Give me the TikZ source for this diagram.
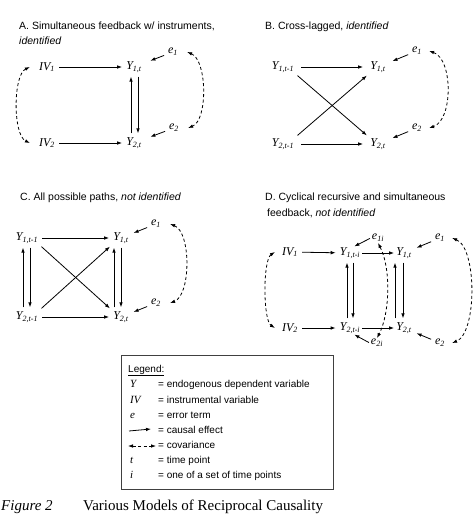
\documentclass[tikz,border=0pt]{standalone}
\usepackage{fontspec}
\setmainfont{Liberation Serif}
\setsansfont{Liberation Sans}
\usetikzlibrary{arrows.meta,positioning}

\newcommand{\vr}[2]{\textit{#1\textsubscript{#2}}}

\begin{document}
\begin{tikzpicture}[
    x=1pt, y=-1pt,
    var/.style={font=\fontsize{12}{12}\selectfont, inner sep=1pt},
    heading/.style={font=\sffamily\fontsize{10.5}{13}\selectfont, anchor=base west, inner sep=0pt},
    arrow/.style={-{Latex[length=5pt,width=3.6pt]}, line width=0.8pt, shorten <=3pt, shorten >=3pt},
    cov/.style={{Latex[length=5pt,width=3.6pt]}-{Latex[length=5pt,width=3.6pt]}, line width=0.8pt, dash pattern=on 3pt off 2.5pt},
    lgd/.style={font=\sffamily\fontsize{10}{12}\selectfont, anchor=base west, inner sep=0pt}
  ]
    \useasboundingbox (0,0) rectangle (476,515);

    % A
    \node[heading] (aTitle) at (19,29) {A. Simultaneous feedback w/ instruments,};
    \node[heading] (aTitle2) at (19,44) {\itshape identified};
    \node[var] (aIV1) at (47,67) {\vr{IV}{1}};
    \node[var] (aIV2) at (47,143) {\vr{IV}{2}};
    \node[var] (aY1) at (134,67) {\vr{Y}{1,t}};
    \node[var] (aY2) at (134,143) {\vr{Y}{2,t}};
    \node[var] (aE1) at (173,52) {\vr{e}{1}};
    \node[var] (aE2) at (174,128) {\vr{e}{2}};
    \draw[arrow] (aIV1) -- (aY1);
    \draw[arrow] (aIV2) -- (aY2);
    \draw[arrow] ([xshift=-3pt]aY2.north) -- ([xshift=-3pt]aY1.south);
    \draw[arrow] ([xshift=4pt]aY1.south) -- ([xshift=4pt]aY2.north);
    \draw[arrow, shorten >=8pt] (aE1) -- (aY1);
    \draw[arrow, shorten >=8pt] (aE2) -- (aY2);
    \draw[cov] ([xshift=8pt]aE1.east) .. controls +(20,8) and +(20,-8) .. ([xshift=8pt]aE2.east);
    \draw[cov] ([xshift=-8pt]aIV1.west) .. controls +(-17,8) and +(-17,-8) .. ([xshift=-8pt]aIV2.west);

    % B
    \node[heading] (bTitle) at (265,29) {B. Cross-lagged, \itshape identified};
    \node[var] (bY1p) at (283,67) {\vr{Y}{1,t-1}};
    \node[var] (bY2p) at (283,144) {\vr{Y}{2,t-1}};
    \node[var] (bY1) at (378,67) {\vr{Y}{1,t}};
    \node[var] (bY2) at (378,144) {\vr{Y}{2,t}};
    \node[var] (bE1) at (417,51) {\vr{e}{1}};
    \node[var] (bE2) at (417,128) {\vr{e}{2}};
    \draw[arrow, shorten <=6pt, shorten >=6pt] (bY1p) -- (bY1);
    \draw[arrow, shorten <=6pt, shorten >=6pt] (bY2p) -- (bY2);
    \draw[arrow] (bY1p.south east) -- (bY2.north west);
    \draw[arrow] (bY2p.north east) -- (bY1.south west);
    \draw[arrow, shorten >=6pt] (bE1) -- (bY1);
    \draw[arrow, shorten >=6pt] (bE2) -- (bY2);
    \draw[cov] ([xshift=6pt]bE1.east) .. controls +(24,8) and +(24,-8) .. ([xshift=6pt]bE2.east);

    % C
    \node[heading] (cTitle) at (20,200) {C. All possible paths, \itshape not identified};
    \node[var] (cY1p) at (27,238) {\vr{Y}{1,t-1}};
    \node[var] (cY2p) at (27,317) {\vr{Y}{2,t-1}};
    \node[var] (cY1) at (121,238) {\vr{Y}{1,t}};
    \node[var] (cY2) at (121,317) {\vr{Y}{2,t}};
    \node[var] (cE1) at (156,224) {\vr{e}{1}};
    \node[var] (cE2) at (156,303) {\vr{e}{2}};
    \draw[arrow] (cY1p) -- (cY1);
    \draw[arrow] (cY2p) -- (cY2);
    \draw[arrow] (cY1p.south east) -- (cY2.north west);
    \draw[arrow] (cY2p.north east) -- (cY1.south west);
    \draw[arrow] ([xshift=-4pt]cY2p.north) -- ([xshift=-4pt]cY1p.south);
    \draw[arrow] ([xshift=3pt]cY1p.south) -- ([xshift=3pt]cY2p.north);
    \draw[arrow] ([xshift=-7pt]cY2.north) -- ([xshift=-7pt]cY1.south);
    \draw[arrow] (cY1.south) -- (cY2.north);
    \draw[arrow, shorten >=4pt] (cE1) -- (cY1);
    \draw[arrow, shorten >=4pt] (cE2) -- (cY2);
    \draw[cov] ([xshift=8pt]cE1.east) .. controls +(21,8) and +(21,-8) .. ([xshift=8pt]cE2.east);

    % D
    \node[heading] (dTitle) at (265,200) {D. Cyclical recursive and simultaneous};
    \node[heading] (dTitle2) at (267,216) {feedback, \itshape not identified};
    \node[var] (dIV1) at (290,252) {\vr{IV}{1}};
    \node[var] (dIV2) at (290,328) {\vr{IV}{2}};
    \node[var] (dY1p) at (350,253) {\vr{Y}{1,t-i}};
    \node[var] (dY2p) at (350,328) {\vr{Y}{2,t-i}};
    \node[var] (dY1) at (404,253) {\vr{Y}{1,t}};
    \node[var] (dY2) at (404,328) {\vr{Y}{2,t}};
    \node[var] (dE1i) at (378,238) {\vr{e}{1i}};
    \node[var] (dE2i) at (377,343) {\vr{e}{2i}};
    \node[var] (dE1) at (440,238) {\vr{e}{1}};
    \node[var] (dE2) at (440,343) {\vr{e}{2}};
    \draw[arrow] (dIV1) -- (dY1p);
    \draw[arrow] (dIV2) -- (dY2p);
    \draw[arrow, shorten <=1pt, shorten >=1pt] (dY1p) -- (dY1);
    \draw[arrow, shorten <=1pt, shorten >=1pt] (dY2p) -- (dY2);
    \draw[arrow] ([xshift=-3pt]dY2p.north) -- ([xshift=-3pt]dY1p.south);
    \draw[arrow] ([xshift=3pt]dY1p.south) -- ([xshift=3pt]dY2p.north);
    \draw[arrow] ([xshift=-9pt]dY2.north) -- ([xshift=-9pt]dY1.south);
    \draw[arrow] ([xshift=-1pt]dY1.south) -- ([xshift=-1pt]dY2.north);
    \draw[arrow, shorten <=1pt, shorten >=0pt] (dE1i.west) -- ([xshift=-7pt]dY1p.north east);
    \draw[arrow, shorten <=1pt, shorten >=0pt] (dE2i.west) -- ([xshift=-7pt]dY2p.south east);
    \draw[arrow, shorten >=4pt] (dE1) -- (dY1);
    \draw[arrow, shorten >=4pt] (dE2) -- (dY2);
    \draw[cov] (dE1i.south) .. controls +(13,25) and +(13,-25) .. (dE2i.north);
    \draw[cov] ([xshift=6pt]dE1.east) .. controls +(25,10) and +(25,-10) .. ([xshift=6pt]dE2.east);
    \draw[cov] ([xshift=-6pt]dIV1.west) .. controls +(-12,8) and +(-12,-8) .. ([xshift=-6pt]dIV2.west);

    % legend
    \draw[black!75, line width=0.7pt] (121,355) rectangle (333,489);
    \node[lgd] (lgTitle) at (128,372) {\underline{Legend:}};
    \node[lgd, font=\fontsize{11}{12}\selectfont\itshape] (lgY) at (130,387) {Y};
    \node[lgd, font=\fontsize{11}{12}\selectfont\itshape] (lgIV) at (130,403) {IV};
    \node[lgd, font=\fontsize{11}{12}\selectfont\itshape] (lgE) at (130,418) {e};
    \coordinate (lgA1) at (129,431);
    \coordinate (lgA2) at (151,429);
    \coordinate (lgC1) at (128,446);
    \coordinate (lgC2) at (156,446);
    \node[lgd, font=\fontsize{11}{12}\selectfont\itshape] (lgT) at (130,463) {t};
    \node[lgd, font=\fontsize{11}{12}\selectfont\itshape] (lgI) at (130,478) {i};
    \draw[arrow, shorten <=0pt, shorten >=0pt] (lgA1) -- (lgA2);
    \draw[cov] (lgC1) -- (lgC2);
    \node[lgd] (lgYt) at (158,387) {= endogenous dependent variable};
    \node[lgd] (lgIVt) at (158,403) {= instrumental variable};
    \node[lgd] (lgEt) at (158,418) {= error term};
    \node[lgd] (lgAt) at (158,433) {= causal effect};
    \node[lgd] (lgCt) at (158,448) {= covariance};
    \node[lgd] (lgTt) at (158,463) {= time point};
    \node[lgd] (lgIt) at (158,478) {= one of a set of time points};

    % caption
    \node[anchor=base west, inner sep=0pt, font=\fontsize{15}{15}\selectfont\itshape] (fig) at (1,510.5) {Figure 2};
    \node[inner sep=0pt, font=\fontsize{15}{15}\selectfont, right=30pt of fig.base east, anchor=base west] (cap) {Various Models of Reciprocal Causality};
  \end{tikzpicture}
\end{document}
